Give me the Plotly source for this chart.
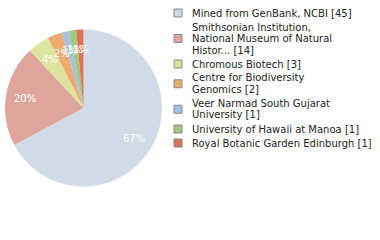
import math
import plotly.graph_objects as go

legend_lines = [["Mined from GenBank, NCBI [45]"],
                ["Smithsonian Institution,", "National Museum of Natural", "Histor... [14]"],
                ["Chromous Biotech [3]"],
                ["Centre for Biodiversity", "Genomics [2]"],
                ["Veer Narmad South Gujarat", "University [1]"],
                ["University of Hawaii at Manoa [1]"],
                ["Royal Botanic Garden Edinburgh [1]"]]
labels = [" ".join(l) for l in legend_lines]
values = [45, 14, 3, 2, 1, 1, 1]
colors = ["#cfdbe7", "#dea59d", "#dfe3a0", "#eeab6f", "#a4c1e3", "#a2c77e", "#de7259"]

W, H = 380, 240
cx, cy, R = 83.5, 108, 78.5

fig = go.Figure()
fig.add_trace(go.Pie(
    labels=labels, values=values, sort=False, direction="clockwise", rotation=0,
    marker=dict(colors=colors, line=dict(width=0)),
    textinfo="none", hoverinfo="skip", showlegend=False,
    domain=dict(x=[(cx - R) / W, (cx + R) / W], y=[(H - cy - R) / H, (H - cy + R) / H]),
))

# percentage labels (floored), placed along each slice's mid-angle
total = sum(values)
cum = 0
for v in values:
    mid = (cum + v / 2) / total * 2 * math.pi
    cum += v
    r = 0.75 * R
    px = cx + r * math.sin(mid)
    py = cy - r * math.cos(mid)
    pct = int(100 * v / total)
    fig.add_annotation(x=px / W, y=(H - py) / H, xref="paper", yref="paper",
                       text=f"{pct}%", showarrow=False,
                       xanchor="center", yanchor="middle",
                       font=dict(family="DejaVu Sans", size=10, color="white"))

# legend drawn as squares + text lines
line_h, gap = 11.5, 2.5
y = 13.0
sq_x0, sq_x1, text_x = 174, 182, 190
for lines, col in zip(legend_lines, colors):
    ys = []
    for t in lines:
        fig.add_annotation(x=text_x / W, y=(H - y) / H, xref="paper", yref="paper",
                           text=t, showarrow=False, xanchor="left", yanchor="middle",
                           font=dict(family="DejaVu Sans", size=10, color="#222222"))
        ys.append(y)
        y += line_h
    y += gap
    ym = sum(ys) / len(ys)
    fig.add_shape(type="rect", xref="paper", yref="paper",
                  x0=sq_x0 / W, x1=sq_x1 / W, y0=(H - ym - 4) / H, y1=(H - ym + 4) / H,
                  fillcolor=col, line=dict(color="#888888", width=1))

fig.update_layout(
    width=W, height=H, margin=dict(l=0, r=0, t=0, b=0),
    paper_bgcolor="white", plot_bgcolor="white", showlegend=False,
)
fig.write_html("out.html")
